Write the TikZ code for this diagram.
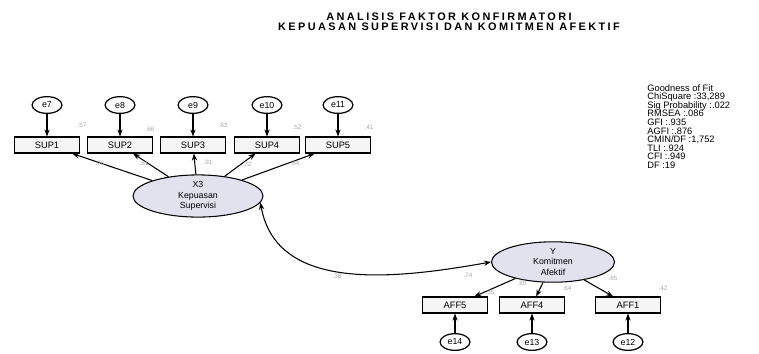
\documentclass[tikz,border=0pt]{standalone}
\usepackage{fontspec}
\setmainfont{Liberation Sans}
\newfontfamily\titlefont[LetterSpace=22]{Liberation Sans}
\usepackage{tikz}
\usetikzlibrary{shapes.geometric,arrows.meta,positioning,calc}

\definecolor{latfill}{RGB}{226,226,238}
\tikzset{
  obs/.style={draw, line width=0.7pt, fill=gray!8, minimum width=37pt, minimum height=9pt, inner sep=0pt, font=\fontsize{5.3}{6}\selectfont},
  err/.style={draw, ellipse, line width=0.7pt, minimum width=17pt, minimum height=9.5pt, inner sep=0pt, font=\fontsize{5}{6}\selectfont},
  lat/.style={draw, ellipse, line width=0.6pt, fill=latfill, align=center, inner sep=0pt, font=\fontsize{5}{5.8}\selectfont},
  path/.style={-{Stealth[length=4pt,width=3pt]}, line width=0.6pt},
  est/.style={font=\fontsize{3.6}{4}\selectfont, text=gray!70, inner sep=0.5pt},
  fitline/.style={anchor=base west, inner sep=0pt, font=\fontsize{5.3}{6}\selectfont}
}

\begin{document}
\begin{tikzpicture}[x=0.02cm, y=-0.02cm]
\useasboundingbox (0,0) rectangle (759,353);
\node[align=center, font=\titlefont\bfseries\fontsize{6.2}{5.9}\selectfont] (title) at (449,22)
  {ANALISIS FAKTOR KONFIRMATORI\\KEPUASAN SUPERVISI DAN KOMITMEN AFEKTIF};

\node[lat, minimum width=74pt, minimum height=24pt] (x3) at (198,196) {X3\\Kepuasan\\Supervisi};
\node[lat, minimum width=70pt, minimum height=23pt] (y) at (553,262) {Y\\Komitmen\\Afektif};

\foreach \i/\e/\x in {1/7/47, 2/8/120, 3/9/193, 4/10/267, 5/11/338} {
  \node[err] (e\e) at (\x,105) {e\e};
  \node[obs] (sup\i) at (\x,145) {SUP\i};
  \draw[path] (e\e) -- (sup\i);
  \draw[path] (x3) -- (sup\i);
}
\foreach \n/\e/\x in {5/14/455, 4/13/532, 1/12/628} {
  \node[err] (e\e) at (\x,342) {e\e};
  \node[obs] (aff\n) at (\x,305) {AFF\n};
  \draw[path] (e\e) -- (aff\n);
  \draw[path] (y) -- (aff\n);
}

\draw[{Stealth[length=4pt,width=3pt]}-{Stealth[length=4pt,width=3pt]}, line width=0.6pt]
  (x3.-6) to[out=-80, in=190] (y.west);

\node[est] at (82,125) {.57};
\node[est] at (150,129) {.66};
\node[est] at (223,125) {.83};
\node[est] at (297,127) {.52};
\node[est] at (369,127) {.41};
\node[est] at (100,163) {.76};
\node[est] at (144,163) {.81};
\node[est] at (208,162) {.91};
\node[est] at (247,164) {.72};
\node[est] at (295,163) {.64};
\node[est] at (337,276) {.38};
\node[est] at (468,275) {.74};
\node[est] at (522,283) {.80};
\node[est] at (613,278) {.65};
\node[est] at (490,292) {.55};
\node[est] at (567,288) {.64};
\node[est] at (663,288) {.42};

\foreach \t [count=\k] in {Goodness of Fit, {ChiSquare :33,289}, Sig Probability :.022, RMSEA :.086, GFI :.935, AGFI :.876, {CMIN/DF :1,752}, TLI :.924, CFI :.949, DF :19}
  \node[fitline] (fit\k) at (647,{82.5+8.6*\k}) {\t};
\end{tikzpicture}
\end{document}
